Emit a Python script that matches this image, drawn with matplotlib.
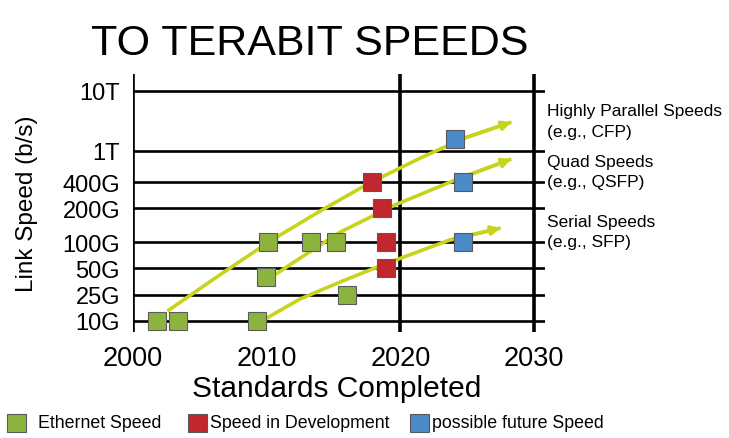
import numpy as np
import matplotlib
matplotlib.use('Agg')
import matplotlib.pyplot as plt
from matplotlib.patches import Rectangle
from matplotlib.ticker import NullLocator

plt.rcParams['font.family'] = ['Liberation Sans', 'DejaVu Sans']

# link speed levels in Gb/s, with the uneven spacing used by the original axis
level_speeds = [10, 25, 50, 100, 200, 400, 1000, 10000]
level_labels = ['10G', '25G', '50G', '100G', '200G', '400G', '1T', '10T']
level_pos = [0, 0.91, 1.85, 2.77, 3.97, 4.89, 6.0, 8.13]

year_ticks = [2000, 2010, 2020, 2030]

# squares: year standard completed, speed in Gb/s
eth_years = [2001.8, 2003.4, 2009.3, 2010.1, 2010.0, 2013.3, 2015.2, 2016.0]
eth_speeds = [10, 10, 10, 100, 40, 100, 100, 25]
dev_years = [2017.9, 2018.6, 2018.9, 2018.9]
dev_speeds = [400, 200, 100, 50]
fut_years = [2024.1, 2024.7, 2024.7]
fut_speeds = [1600, 400, 100]

# trend arrows
par_years = [2002.6, 2006.5, 2010.3, 2014.0, 2017.7, 2021.5, 2024.8, 2028.3]
par_speeds = [14.1, 42, 103, 189, 393, 813, 1640, 3010]
quad_years = [2010.7, 2013.3, 2015.5, 2019.6, 2024.1, 2028.3]
quad_speeds = [43, 79, 123, 219, 428, 790]
ser_years = [2009.9, 2012.5, 2015.5, 2018.7, 2023.7, 2027.5]
ser_speeds = [10.6, 21.6, 35, 55, 105, 134]

green = '#8db33f'
red = '#c1272d'
blue = '#4b8bc9'
arrow_col = '#c8d31c'
edge = '#5a5a5a'

# piecewise log scale matching the picture's level spacing
lg = np.log10(level_speeds)
lo_slope = (level_pos[1] - level_pos[0]) / (lg[1] - lg[0])
hi_slope = (level_pos[-1] - level_pos[-2]) / (lg[-1] - lg[-2])
xl = np.concatenate([[lg[0] - 3], lg, [lg[-1] + 3]])
xp = np.concatenate([[level_pos[0] - 3 * lo_slope], level_pos, [level_pos[-1] + 3 * hi_slope]])


def fwd(v):
    v = np.asarray(v, dtype=float)
    return np.interp(np.log10(np.clip(v, 1e-6, None)), xl, xp)


def inv(p):
    return 10 ** np.interp(np.asarray(p, dtype=float), xp, xl)


W, H = 729, 439
fig = plt.figure(figsize=(W / 100, H / 100), dpi=100)
ax = fig.add_axes([132.6 / W, 1 - 333 / H, (545 - 132.6) / W, (333 - 75) / H])
ax.set_yscale('function', functions=(fwd, inv))
xmax = 2000 + (545 - 132.6) / 13.386
ax.set_xlim(2000, xmax)
ax.set_ylim(inv(-0.40), inv(8.72))

for s in ax.spines.values():
    s.set_visible(False)

for s in level_speeds:
    ax.axhline(s, color='black', lw=1.9, zorder=1)
for yr in [2000, 2020, 2030]:
    ax.axvline(yr, color='black', lw=2.6, zorder=1)

ax.set_yticks(level_speeds, level_labels)
ax.yaxis.set_minor_locator(NullLocator())
ax.set_xticks(year_ticks, [str(y) for y in year_ticks])
ax.tick_params(axis='y', length=0, pad=9, labelsize=17)
ax.tick_params(axis='x', length=0, pad=9.5, labelsize=19.5)

for yrs, sps in [(par_years, par_speeds), (quad_years, quad_speeds), (ser_years, ser_speeds)]:
    ax.plot(yrs, sps, color=arrow_col, lw=2.6, solid_capstyle='butt', zorder=2)
    ax.annotate('', xy=(yrs[-1], sps[-1]), xytext=(yrs[-2], sps[-2]),
                arrowprops=dict(arrowstyle='-|>', color=arrow_col, lw=2.6,
                                mutation_scale=13, shrinkA=0, shrinkB=0),
                zorder=2)

for yrs, sps, col in [(eth_years, eth_speeds, green), (dev_years, dev_speeds, red),
                      (fut_years, fut_speeds, blue)]:
    ax.plot(yrs, sps, 's', ms=13.5, mfc=col, mec=edge, mew=0.8, zorder=3, clip_on=False)

fig.text(310 / W, 1 - 55 / H, 'TO TERABIT SPEEDS', ha='center', va='baseline', size=31)
fig.text(27 / W, 1 - 204 / H, 'Link Speed (b/s)', rotation=90, ha='center', va='center', size=17.5)
fig.text(337 / W, 1 - 389 / H, 'Standards Completed', ha='center', va='center', size=21.5)

side = [('Highly Parallel Speeds', 112), ('(e.g., CFP)', 133),
        ('Quad Speeds', 162), ('(e.g., QSFP)', 183),
        ('Serial Speeds', 222), ('(e.g., SFP)', 243)]
for txt, yp in side:
    fig.text(547 / W, 1 - yp / H, txt, ha='left', va='center', size=12.5)

legend = [(green, 7, 'Ethernet Speed', 38), (red, 188, 'Speed in Development', 210),
          (blue, 410, 'possible future Speed', 432)]
for col, bx, txt, tx in legend:
    fig.add_artist(Rectangle((bx / W, 1 - 433 / H), 19 / W, 18 / H, transform=fig.transFigure,
                             facecolor=col, edgecolor=edge, lw=0.8))
    fig.text(tx / W, 1 - 424 / H, txt, ha='left', va='center', size=12.8)

fig.savefig('out.png', dpi=100)
